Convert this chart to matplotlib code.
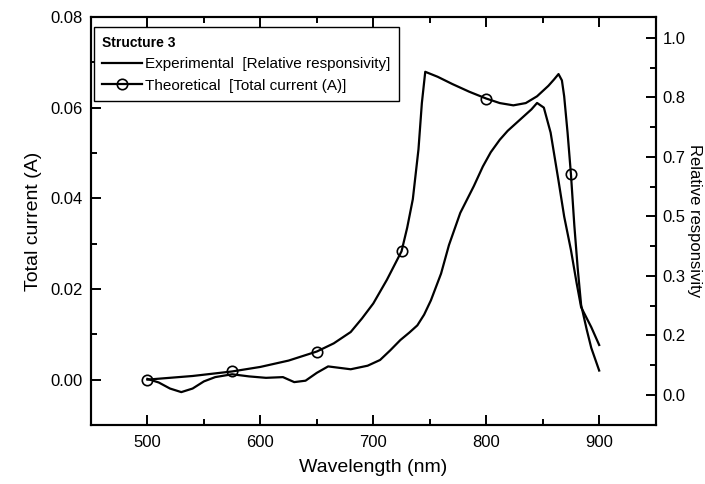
import matplotlib
matplotlib.use('Agg')
import matplotlib.pyplot as plt
from matplotlib.ticker import MultipleLocator, FixedLocator, FormatStrFormatter
import numpy as np

plt.rcParams['font.family'] = ['Liberation Sans', 'DejaVu Sans']

# theoretical total current (A), left axis
wl_theo = [500, 540, 575, 600, 625, 650, 665, 680, 690, 700, 712, 725, 730, 735, 740, 743,
           746, 757, 770, 785, 800, 812, 824, 835, 845, 855, 860, 864, 867, 869, 872, 875,
           878, 881, 884, 889, 893, 900]
cur_theo = [0.0000, 0.0008, 0.0018, 0.0028, 0.0042, 0.0062, 0.0080, 0.0105, 0.0135, 0.0168,
            0.0220, 0.0283, 0.0335, 0.0398, 0.0508, 0.0610,
            0.0679, 0.0668, 0.0652, 0.0635, 0.0620, 0.0610, 0.0605, 0.0610, 0.0625, 0.0648,
            0.0662, 0.0674, 0.0660, 0.0625, 0.0545, 0.0453,
            0.0340, 0.0245, 0.0165, 0.0110, 0.0070, 0.0020]
marker_wl = [500, 575, 650, 725, 800, 875]

# experimental relative responsivity, right axis
wl_exp = [500, 510, 520, 530, 540, 550, 560, 575, 590, 605, 620, 630, 640, 650, 660,
          670, 680, 695, 706, 715, 724, 732, 739, 745, 751, 760, 767, 777, 789, 797, 804,
          812, 819, 833, 840, 845, 851, 857, 864, 869, 875, 880, 884, 893, 900]
resp_exp = [0.045, 0.035, 0.018, 0.008, 0.018, 0.038, 0.050, 0.058, 0.052, 0.048, 0.050,
            0.036, 0.040, 0.062, 0.080, 0.076, 0.072, 0.082, 0.098, 0.125, 0.154, 0.175,
            0.195, 0.225, 0.265, 0.340, 0.420, 0.510, 0.585, 0.640, 0.680,
            0.715, 0.740, 0.780, 0.800, 0.818, 0.805, 0.735, 0.600, 0.500, 0.406, 0.314,
            0.246, 0.190, 0.140]

fig = plt.figure(figsize=(7.05, 4.84), dpi=100)
ax = fig.add_axes([0.129, 0.122, 0.801, 0.843])
ax2 = ax.twinx()

mark_idx = [wl_theo.index(w) for w in marker_wl]
l_theo, = ax.plot(wl_theo, cur_theo, color='black', lw=1.6, marker='o', markevery=mark_idx,
                  ms=7.5, mfc='none', mec='black', mew=1.2,
                  label='Theoretical  [Total current (A)]')
l_exp, = ax2.plot(wl_exp, resp_exp, color='black', lw=1.6,
                  label='Experimental  [Relative responsivity]')

ax.set_xlim(450, 950)
ax.set_ylim(-0.01, 0.08)
ax2.set_ylim(-0.084, 1.059)

ax.xaxis.set_major_locator(MultipleLocator(100))
ax.xaxis.set_minor_locator(MultipleLocator(50))
ax.yaxis.set_major_locator(MultipleLocator(0.02))
ax.yaxis.set_minor_locator(MultipleLocator(0.01))
ax.yaxis.set_major_formatter(FormatStrFormatter('%.2f'))
ax2.yaxis.set_major_locator(FixedLocator(np.arange(7) / 6))
ax2.yaxis.set_minor_locator(FixedLocator(np.arange(13) / 12))
ax2.yaxis.set_major_formatter(FormatStrFormatter('%.1f'))

ax.tick_params(axis='x', which='both', direction='in', top=True, bottom=True, labelsize=12, pad=7)
ax.tick_params(axis='y', which='both', direction='in', left=True, right=False, labelsize=12, pad=6)
ax2.tick_params(axis='y', which='both', direction='in', right=True, labelsize=12, pad=5)
for a in (ax, ax2):
    a.tick_params(which='major', length=7, width=1.4)
    a.tick_params(which='minor', length=4.5, width=1.4)
for s in ax.spines.values():
    s.set_linewidth(1.5)
for s in ax2.spines.values():
    s.set_linewidth(1.5)

ax.set_xlabel('Wavelength (nm)', fontsize=14, labelpad=7)
ax.set_ylabel('Total current (A)', fontsize=14, labelpad=6)
ax2.set_ylabel('Relative responsivity', fontsize=12, rotation=270, va='bottom', labelpad=1)

leg = ax2.legend(handles=[l_exp, l_theo], title='Structure 3', loc='upper left',
                 bbox_to_anchor=(0.005, 0.975), borderaxespad=0, fontsize=11,
                 title_fontproperties={'weight': 'bold', 'size': 10},
                 frameon=True, fancybox=False, edgecolor='black', framealpha=1,
                 handlelength=2.6, handletextpad=0.2, labelspacing=0.5,
                 alignment='left', borderpad=0.55)
leg.get_frame().set_linewidth(1.0)

fig.savefig('out.png', dpi=100)
